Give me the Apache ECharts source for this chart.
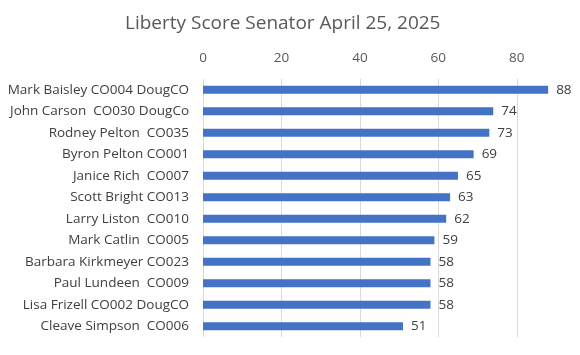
<!DOCTYPE html>
<html><head><meta charset="utf-8">
<script src="https://cdn.jsdelivr.net/npm/echarts@6/dist/echarts.min.js"></script>
<style>html,body{margin:0;padding:0;background:#fff}#c{width:580px;height:355px}</style>
</head><body><div id="c"></div>
<script>
const titleText = 'Liberty Score Senator April 25, 2025';
const categories = ['Mark Baisley CO004 DougCO','John Carson  CO030 DougCo','Rodney Pelton  CO035','Byron Pelton CO001','Janice Rich  CO007','Scott Bright CO013','Larry Liston  CO010','Mark Catlin  CO005','Barbara Kirkmeyer CO023','Paul Lundeen  CO009','Lisa Frizell CO002 DougCO','Cleave Simpson  CO006'];
const scores = [88,74,73,69,65,63,62,59,58,58,58,51];
const font = '"Open Sans", sans-serif';
const chart = echarts.init(document.getElementById('c'));
chart.setOption({
  animation:false,
  title:{text:titleText,left:120,top:9,textStyle:{fontFamily:font,fontSize:19,fontWeight:'normal',color:'#595959'}},
  grid:{left:203,right:24,top:79,bottom:18,containLabel:false},
  xAxis:{type:'value',position:'top',min:0,max:90,interval:20,
    axisLine:{show:false},axisTick:{show:false},
    axisLabel:{showMaxLabel:false,fontFamily:font,fontSize:13.5,color:'#595959',margin:14},
    splitLine:{show:true,showMaxLine:false,lineStyle:{color:'#d9d9d9',width:1}}},
  yAxis:{type:'category',data:categories,inverse:true,
    axisLine:{show:false},axisTick:{show:false},
    axisLabel:{fontFamily:font,fontSize:13.5,color:'#404040',margin:14}},
  series:[{type:'bar',data:scores,barWidth:8,itemStyle:{color:'#4472C4'},
    label:{show:true,position:'right',distance:8,fontFamily:font,fontSize:13.5,color:'#404040'}}]
});
</script></body></html>
